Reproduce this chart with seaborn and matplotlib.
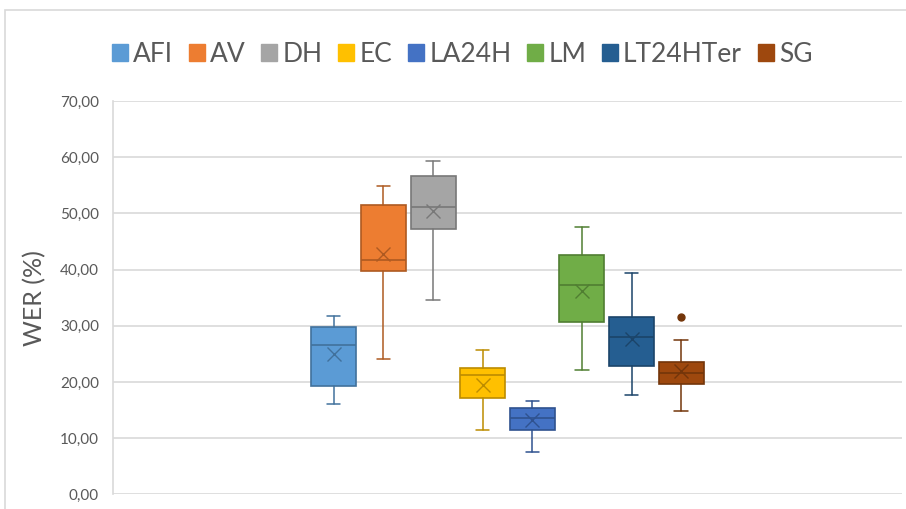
import matplotlib.pyplot as plt
import matplotlib.patches as mpatches
import seaborn as sns

# values
groups = ["AFI", "AV", "DH", "EC", "LA24H", "LM", "LT24HTer", "SG"]
whisker_low = [16.0, 24.0, 34.5, 11.5, 7.5, 22.1, 17.6, 14.9]
q1 = [19.2, 39.8, 47.3, 17.2, 11.4, 30.6, 22.8, 19.7]
median = [26.6, 41.7, 51.1, 21.2, 13.5, 37.3, 28.0, 21.5]
mean = [24.9, 42.8, 50.4, 19.5, 13.2, 36.2, 27.7, 21.9]
q3 = [29.7, 51.4, 56.7, 22.5, 15.3, 42.6, 31.5, 23.6]
whisker_high = [31.7, 54.9, 59.3, 25.6, 16.6, 47.6, 39.3, 27.4]
outliers = [[], [], [], [], [], [], [], [31.5]]

fill_colors = ["#5B9BD5", "#ED7D31", "#A5A5A5", "#FFC000",
               "#4472C4", "#70AD47", "#255E91", "#9E480E"]
edge_colors = ["#41719C", "#AE5A21", "#787878", "#BC8C00",
               "#2F528F", "#507E32", "#1B4469", "#73350A"]

sns.set_theme(style="white")
plt.rcParams['font.family'] = ['Lato', 'DejaVu Sans']

fig = plt.figure(figsize=(9.06, 5.09), dpi=100)
ax = fig.add_axes([0.1247, 0.0289, 0.8709, 0.7727])

# outer chart border like Excel
fig.patches.append(mpatches.Rectangle((5 / 906, -0.1), 1.2, (509 - 10) / 509 + 0.1,
                                      transform=fig.transFigure, fill=False,
                                      edgecolor="#D9D9D9", linewidth=1.2))

step = 0.0629
stats = []
for i, g in enumerate(groups):
    stats.append(dict(label=g, whislo=whisker_low[i], q1=q1[i], med=median[i],
                      mean=mean[i], q3=q3[i], whishi=whisker_high[i],
                      fliers=outliers[i]))
positions = [(i - 3.5) * step for i in range(len(groups))]

for i, s in enumerate(stats):
    ec = edge_colors[i]
    ax.bxp([s], positions=[positions[i]], widths=0.057, patch_artist=True,
           showmeans=True, showfliers=True, manage_ticks=False,
           boxprops=dict(facecolor=fill_colors[i], edgecolor=ec, linewidth=1.2),
           medianprops=dict(color=ec, linewidth=1.2),
           whiskerprops=dict(color=ec, linewidth=1.1),
           capprops=dict(color=ec, linewidth=1.1),
           capwidths=0.017,
           meanprops=dict(marker="x", markeredgecolor=ec, markersize=10,
                          markeredgewidth=1.0),
           flierprops=dict(marker="o", markerfacecolor=ec, markeredgecolor=ec,
                           markersize=5))

ax.set_xlim(-0.5, 0.5)
ax.set_ylim(0, 70)
ax.set_yticks(range(0, 71, 10))
ax.set_yticklabels([f"{v:.2f}".replace(".", ",") for v in range(0, 71, 10)],
                   fontsize=11, color="#595959")
ax.set_xticks([])
ax.yaxis.grid(True, color="#D9D9D9", linewidth=1.2)
ax.set_axisbelow(True)
ax.tick_params(axis="y", length=0, pad=10)
for side in ["top", "right", "bottom"]:
    ax.spines[side].set_visible(False)
ax.spines["left"].set_color("#D9D9D9")
ax.spines["left"].set_linewidth(1.2)
ax.set_ylabel("WER (%)", fontsize=18, color="#595959", labelpad=10)

handles = [mpatches.Patch(facecolor=fill_colors[i], edgecolor=fill_colors[i], label=g)
           for i, g in enumerate(groups)]
fig.legend(handles=handles, loc="center", bbox_to_anchor=(0.51, 0.893), ncol=8,
           frameon=False, fontsize=19, handlelength=0.6, handleheight=0.6,
           handletextpad=0.2, columnspacing=0.6, labelcolor="#595959")

fig.savefig("out.png", dpi=100)
